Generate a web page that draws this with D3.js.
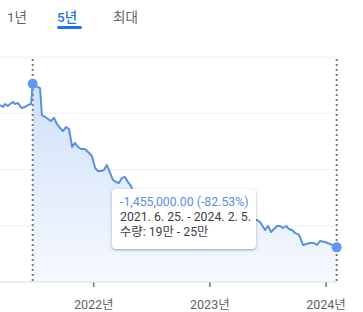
<!DOCTYPE html>
<html>
<head>
<meta charset="utf-8">
<script src="https://cdn.jsdelivr.net/npm/d3@7"></script>
<style>
  html, body { margin: 0; padding: 0; background: #fff; }
  body { width: 363px; height: 312px; overflow: hidden; position: relative;
         font-family: Roboto, "Noto Sans CJK KR", sans-serif; }
  #tip { position: absolute; background: #fff; border-radius: 4px;
         box-shadow: 0 1px 2px rgba(60,64,67,0.3), 0 1px 3px 1px rgba(60,64,67,0.12);
         padding: 6px 8px 9px 8px; font-size: 12.3px; line-height: 15px; color: #3c4043;
         white-space: nowrap; width: 128px; }
  #tip .chg { color: #5b8ee6; }
</style>
</head>
<body>
<div id="chart"></div>
<div id="tip"></div>
<script>
// range tabs
const tabs = ['1년', '5년', '최대'];
const activeTab = '5년';

// price series (KRW)
const dates = [
  '2021-03-14', '2021-03-24', '2021-03-30', '2021-04-08', '2021-04-15', '2021-04-24',
  '2021-04-30', '2021-05-10', '2021-05-16', '2021-05-22', '2021-06-01', '2021-06-10',
  '2021-06-20', '2021-06-25', '2021-07-05', '2021-07-18', '2021-07-24', '2021-08-03',
  '2021-08-12', '2021-08-21', '2021-08-31', '2021-09-09', '2021-09-19', '2021-09-28',
  '2021-10-08', '2021-10-17', '2021-10-27', '2021-11-05', '2021-11-14', '2021-11-24',
  '2021-12-06', '2021-12-16', '2021-12-28', '2022-01-07', '2022-01-16', '2022-01-26',
  '2022-02-04', '2022-02-13', '2022-02-23', '2022-03-04', '2022-03-14', '2022-03-23',
  '2022-04-01', '2022-04-11', '2022-04-20', '2022-04-30', '2022-05-06', '2022-05-28',
  '2022-06-19', '2022-07-14', '2022-08-08', '2022-08-31', '2022-09-24', '2022-10-20',
  '2022-11-17', '2022-12-12', '2023-01-09', '2023-02-03', '2023-03-01', '2023-03-26',
  '2023-04-20', '2023-05-09', '2023-05-31', '2023-06-09', '2023-06-25', '2023-07-04',
  '2023-07-14', '2023-07-23', '2023-08-02', '2023-08-11', '2023-08-20', '2023-08-30',
  '2023-09-08', '2023-09-18', '2023-09-27', '2023-10-10', '2023-10-22', '2023-11-01',
  '2023-11-13', '2023-11-26', '2023-12-05', '2023-12-15', '2023-12-30', '2024-01-15',
  '2024-02-05'
];
const prices = [
  1573000, 1556000, 1582000, 1564000, 1582000, 1600000,
  1582000, 1591000, 1564000, 1547000, 1556000, 1573000,
  1582000, 1763000, 1742000, 1724000, 1484000, 1467000,
  1449000, 1431000, 1458000, 1404000, 1369000, 1342000,
  1378000, 1360000, 1200000, 1236000, 1200000, 1182000,
  1182000, 1156000, 1120000, 1013000, 987000, 987000,
  996000, 1040000, 969000, 907000, 889000, 880000,
  924000, 933000, 889000, 853000, 800000, 773000,
  747000, 729000, 702000, 676000, 684000, 658000,
  640000, 649000, 622000, 604000, 613000, 587000,
  578000, 560000, 551000, 533000, 462000, 498000,
  444000, 471000, 498000, 498000, 480000, 498000,
  471000, 462000, 436000, 418000, 329000, 338000,
  347000, 347000, 329000, 364000, 356000, 338000,
  308000
];

// selected span and its volume text
const rangeStart = '2021-06-25';
const rangeEnd = '2024-02-05';
const volumeText = '수량: 19만 - 25만';

// axes
const gridValues = [0, 500000, 1000000, 1500000, 2000000];
const tickYears = [2021, 2022, 2023, 2024];

const W = 363, H = 312;
const parse = d3.timeParse('%Y-%m-%d');
const data = dates.map((d, i) => ({ date: parse(d), value: prices[i] }));
const t0 = parse(rangeStart), t1 = parse(rangeEnd);

const x = d3.scaleTime().domain([t0, t1]).range([32.7, 336.7]);
const y = d3.scaleLinear().domain([0, 2000000]).range([282, 57]);
const plotRight = 337;

const svg = d3.select('#chart').append('svg')
  .attr('width', W).attr('height', H)
  .style('display', 'block');

const fontFam = 'Roboto, "Noto Sans CJK KR", sans-serif';

// tabs
const tabX = [7, 57, 113];
tabs.forEach((t, i) => {
  svg.append('text')
    .attr('x', tabX[i]).attr('y', 22)
    .attr('font-family', fontFam)
    .attr('font-size', 13.5)
    .attr('font-weight', t === activeTab ? 500 : 400)
    .attr('fill', t === activeTab ? '#1a73e8' : '#5f6368')
    .text(t);
});
const activeIdx = tabs.indexOf(activeTab);
svg.append('rect')
  .attr('x', tabX[activeIdx]).attr('y', 26)
  .attr('width', 25).attr('height', 3).attr('rx', 1.5)
  .attr('fill', '#1a73e8');

// gridlines
svg.append('g').selectAll('line')
  .data(gridValues.slice(1))
  .join('line')
  .attr('x1', 0).attr('x2', plotRight)
  .attr('y1', d => y(d)).attr('y2', d => y(d))
  .attr('stroke', '#eceef1').attr('stroke-width', 1);

// gradient for selected area
const defs = svg.append('defs');
const grad = defs.append('linearGradient')
  .attr('id', 'fillGrad').attr('x1', 0).attr('y1', 0).attr('x2', 0).attr('y2', 1);
grad.append('stop').attr('offset', '0%').attr('stop-color', '#cfe0fb');
grad.append('stop').attr('offset', '100%').attr('stop-color', '#f6f9fe');

const sel = data.filter(d => d.date >= t0 && d.date <= t1);
svg.append('path')
  .datum(sel)
  .attr('fill', 'url(#fillGrad)')
  .attr('d', d3.area().x(d => x(d.date)).y0(y(0)).y1(d => y(d.value)));

// x axis
const xAxis = d3.axisBottom(x)
  .tickValues(tickYears.map(yr => new Date(yr, 0, 1)))
  .tickSize(5)
  .tickFormat(d => d.getFullYear() + '년');
const ax = svg.append('g')
  .attr('transform', `translate(0,${y(0)})`)
  .call(xAxis);
ax.select('.domain').remove();
ax.selectAll('.tick line').attr('stroke', '#70757a').attr('stroke-width', 1.5);
ax.selectAll('.tick text')
  .attr('y', 18)
  .attr('fill', '#5f6368')
  .attr('font-family', fontFam)
  .attr('font-size', 12.5);
svg.append('line')
  .attr('x1', 0).attr('x2', plotRight)
  .attr('y1', y(0)).attr('y2', y(0))
  .attr('stroke', '#dadce0');

// dotted range markers
svg.append('g').selectAll('line')
  .data([t0, t1])
  .join('line')
  .attr('x1', d => x(d)).attr('x2', d => x(d))
  .attr('y1', 59).attr('y2', y(0) + 2)
  .attr('stroke', '#757a80').attr('stroke-width', 2)
  .attr('stroke-dasharray', '2,3');

// price line
svg.append('path')
  .datum(data)
  .attr('fill', 'none')
  .attr('stroke', '#5a8fe6')
  .attr('stroke-width', 2)
  .attr('stroke-linejoin', 'round')
  .attr('d', d3.line().x(d => x(d.date)).y(d => y(d.value)));

// end points
const ends = [sel[0], sel[sel.length - 1]];
svg.append('g').selectAll('circle')
  .data(ends)
  .join('circle')
  .attr('cx', d => x(d.date)).attr('cy', d => y(d.value))
  .attr('r', 5)
  .attr('fill', '#5e97f6');

// tooltip
const diff = ends[1].value - ends[0].value;
const pct = diff / ends[0].value;
const fmtNum = d3.format(',.2f');
const fmtDate = d => `${d.getFullYear()}. ${d.getMonth() + 1}. ${d.getDate()}.`;
const tip = d3.select('#tip')
  .style('left', '112px').style('top', '189px');
tip.append('div').attr('class', 'chg')
  .text(`${fmtNum(diff).replace('−', '-')} (${d3.format('.2f')(pct * 100).replace('−', '-')}%)`);
tip.append('div').text(`${fmtDate(ends[0].date)} - ${fmtDate(ends[1].date)}`);
tip.append('div').text(volumeText);
</script>
</body>
</html>
